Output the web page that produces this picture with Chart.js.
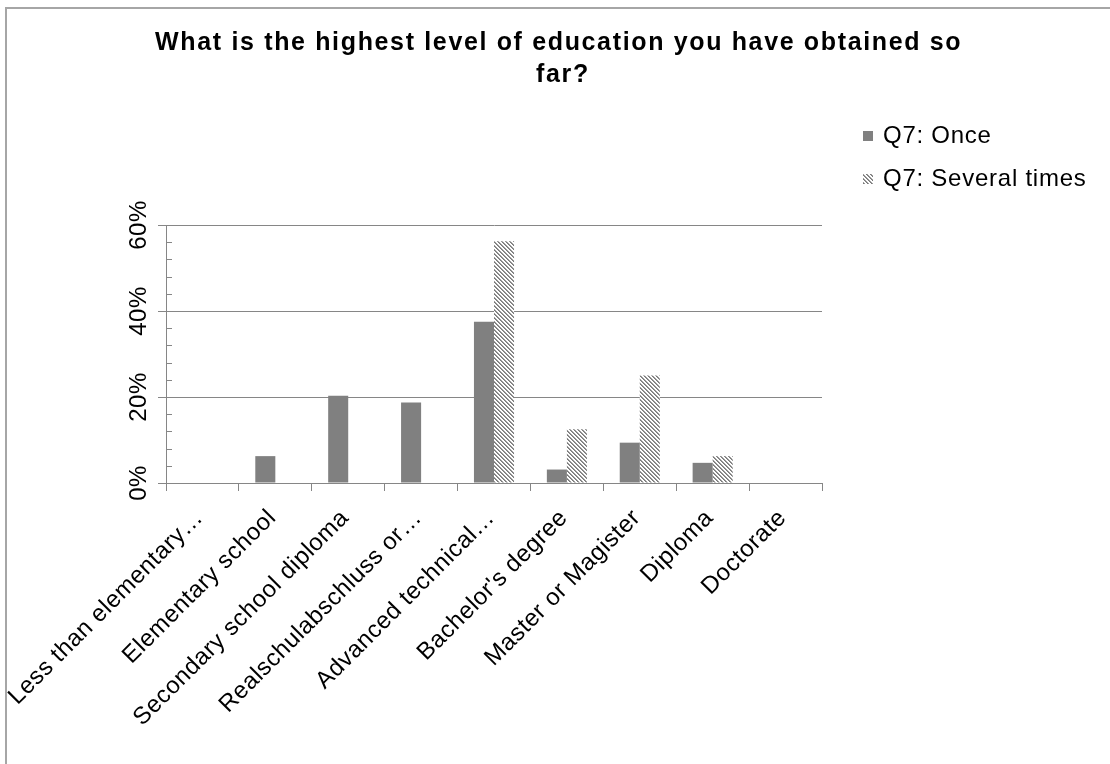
<!DOCTYPE html>
<html>
<head>
<meta charset="utf-8">
<title>Education level</title>
<script src="https://cdn.jsdelivr.net/npm/chart.js@4.4.1/dist/chart.umd.min.js"></script>
<style>
  html, body { margin: 0; padding: 0; background: #fff; overflow: hidden; }
  #frame {
    position: absolute; left: 5px; top: 7px; width: 1300px; height: 900px;
    border-left: 2px solid #a6a6a6; border-top: 2px solid #a6a6a6;
  }
  #wrap { position: absolute; left: 0; top: 0; width: 1110px; height: 764px; }
</style>
</head>
<body>
<div id="frame"></div>
<div id="wrap"><canvas id="chartCanvas" width="1110" height="764"></canvas></div>
<script>
// Daten
const titleLines = ['What is the highest level of education you have obtained so ', 'far?'];
const categories = [
  "Less than elementary…",
  "Elementary school",
  "Secondary school diploma",
  "Realschulabschluss or…",
  "Advanced technical…",
  "Bachelor's degree",
  "Master or Magister",
  "Diploma",
  "Doctorate"
];
const seriesNames = ["Q7: Once", "Q7: Several times"];
const once = [0, 6.25, 20.3, 18.75, 37.5, 3.13, 9.38, 4.69, 0];
const several = [0, 0, 0, 0, 56.25, 12.5, 25, 6.25, 0];
const yTicks = [0, 20, 40, 60];

const FONT = '"Liberation Sans", Arial, sans-serif';
const GREY = '#808080';
const LINE = '#868686';

// Schraffur fuer zweite Reihe (Pixelmuster, Streifen "\")
function makeHatch() {
  const c = document.createElement('canvas');
  c.width = 4; c.height = 4;
  const g = c.getContext('2d');
  g.fillStyle = '#fff';
  g.fillRect(0, 0, 4, 4);
  for (let y = 0; y < 4; y++) {
    for (let x = 0; x < 4; x++) {
      const k = ((x - y) % 4 + 4) % 4;
      if (k === 0) { g.fillStyle = '#7a7a7a'; g.fillRect(x, y, 1, 1); }
      if (k === 1) { g.fillStyle = '#9a9a9a'; g.fillRect(x, y, 1, 1); }
    }
  }
  return g.createPattern(c, 'repeat');
}
const hatch = makeHatch();

// Laufweite fuer Achsenbeschriftung
const spacing = {
  id: 'spacing',
  beforeDraw(chart) { chart.ctx.letterSpacing = '0.5px'; }
};

// kleine Striche innen an der y-Achse
const minorTicks = {
  id: 'minorTicks',
  afterDraw(chart) {
    const ctx = chart.ctx;
    const y = chart.scales.y;
    const left = chart.chartArea.left;
    ctx.save();
    ctx.strokeStyle = LINE;
    ctx.lineWidth = 1;
    ctx.beginPath();
    for (let v = 4; v < 60; v += 4) {
      if (v % 20 === 0) continue;
      const py = Math.round(y.getPixelForValue(v)) + 0.5;
      ctx.moveTo(left, py);
      ctx.lineTo(left + 6, py);
    }
    ctx.stroke();
    ctx.restore();
  }
};

// Titel und Legende
const header = {
  id: 'header',
  afterDraw(chart) {
    const ctx = chart.ctx;
    ctx.save();
    ctx.fillStyle = '#000';
    ctx.textBaseline = 'alphabetic';
    ctx.textAlign = 'center';
    ctx.font = 'bold 25px ' + FONT;
    ctx.letterSpacing = '1.65px';
    titleLines.forEach((t, i) => ctx.fillText(t, 563, 50 + i * 31.7));

    ctx.textAlign = 'left';
    ctx.font = '24px ' + FONT;
    ctx.letterSpacing = '0.75px';
    chart.data.datasets.forEach((ds, i) => {
      const base = 143 + i * 43;
      ctx.fillStyle = ds.backgroundColor;
      ctx.fillRect(863, base - 12, 10, 10);
      ctx.fillStyle = '#000';
      ctx.fillText(ds.label, 883, base);
    });
    ctx.restore();
  }
};

const ctx = document.getElementById('chartCanvas').getContext('2d');
const chart = new Chart(ctx, {
  type: 'bar',
  data: {
    labels: categories,
    datasets: [
      { label: seriesNames[0], data: once, backgroundColor: GREY, borderWidth: 0 },
      { label: seriesNames[1], data: several, backgroundColor: hatch, borderWidth: 0 }
    ]
  },
  options: {
    responsive: false,
    animation: false,
    events: [],
    datasets: { bar: { categoryPercentage: 0.55, barPercentage: 1 } },
    layout: { padding: { left: 0, right: 288, top: 225, bottom: 0 } },
    scales: {
      x: {
        grid: { offset: true, drawOnChartArea: false, color: LINE, tickLength: 8 },
        border: { color: LINE },
        ticks: {
          color: '#000', font: { family: FONT, size: 24 },
          minRotation: 45, maxRotation: 45, autoSkip: false,
          padding: 13, labelOffset: -3
        },
        afterFit: s => { s.height = 281; }
      },
      y: {
        min: 0, max: 60,
        afterBuildTicks: s => { s.ticks = yTicks.map(v => ({ value: v })); },
        grid: { color: LINE, tickLength: 8 },
        border: { color: LINE },
        ticks: {
          color: '#000', font: { family: FONT, size: 24 },
          minRotation: 90, maxRotation: 90, crossAlign: 'center', padding: -5.5,
          callback: v => v + '%'
        },
        afterFit: s => { s.width = 166; }
      }
    },
    plugins: {
      legend: { display: false },
      tooltip: { enabled: false },
      title: { display: false }
    }
  },
  plugins: [spacing, minorTicks, header]
});
</script>
</body>
</html>
